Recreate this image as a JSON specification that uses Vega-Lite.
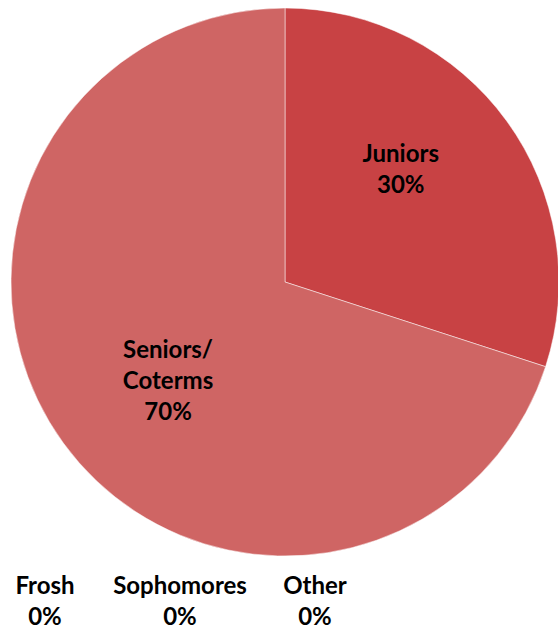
{
  "$schema": "https://vega.github.io/schema/vega-lite/v6.json",
  "width": 558,
  "height": 632,
  "autosize": {"type": "fit", "contains": "padding"},
  "padding": 0,
  "background": "white",
  "view": {"stroke": null},
  "data": {
    "values": [
      {"name": "Frosh", "value": 0, "label": "Frosh\n0%"},
      {"name": "Sophomores", "value": 0, "label": "Sophomores\n0%"},
      {"name": "Juniors", "value": 30, "label": "Juniors\n30%"},
      {"name": "Seniors/Coterms", "value": 70, "label": "Seniors/\nCoterms\n70%"},
      {"name": "Other", "value": 0, "label": "Other\n0%"}
    ]
  },
  "encoding": {
    "theta": {"field": "value", "type": "quantitative", "stack": true},
    "order": {"field": "value", "type": "quantitative", "sort": "ascending"}
  },
  "layer": [
    {
      "transform": [{"filter": "datum.value > 0"}],
      "mark": {"type": "arc", "x": 285, "y": 282, "outerRadius": 274, "stroke": "#ffffff", "strokeWidth": 0.5},
      "encoding": {
        "color": {
          "field": "name",
          "type": "nominal",
          "scale": {"domain": ["Juniors", "Seniors/Coterms"], "range": ["#C84244", "#CF6564"]},
          "legend": null
        }
      }
    },
    {
      "transform": [{"filter": "datum.value > 0"}],
      "mark": {"type": "text", "x": 285, "y": 282, "radius": 161, "thetaOffset": -0.14, "dy": -15.5, "lineBreak": "\n", "font": "Lato", "fontWeight": "bold", "fontSize": 24, "lineHeight": 31, "color": "#000000", "align": "center", "baseline": "middle"},
      "encoding": {"text": {"condition": {"test": "datum.name == 'Juniors'", "field": "label"}, "value": ""}}
    },
    {
      "transform": [{"filter": "datum.value > 0"}],
      "mark": {"type": "text", "x": 285, "y": 282, "radius": 154, "thetaOffset": -0.08, "dy": -31, "lineBreak": "\n", "font": "Lato", "fontWeight": "bold", "fontSize": 24, "lineHeight": 31, "color": "#000000", "align": "center", "baseline": "middle"},
      "encoding": {"text": {"condition": {"test": "datum.name == 'Seniors/Coterms'", "field": "label"}, "value": ""}}
    },
    {
      "transform": [{"filter": "datum.value == 0"}],
      "mark": {"type": "text", "y": 587, "lineBreak": "\n", "font": "Lato", "fontWeight": "bold", "fontSize": 24, "lineHeight": 31, "color": "#000000", "align": "center", "baseline": "middle"},
      "encoding": {
        "theta": null,
        "order": null,
        "x": {"field": "name", "type": "nominal", "scale": {"type": "point", "domain": ["Frosh", "Sophomores", "Other"], "range": [45, 315], "padding": 0}, "axis": null},
        "text": {"field": "label", "type": "nominal"}
      }
    }
  ]
}
